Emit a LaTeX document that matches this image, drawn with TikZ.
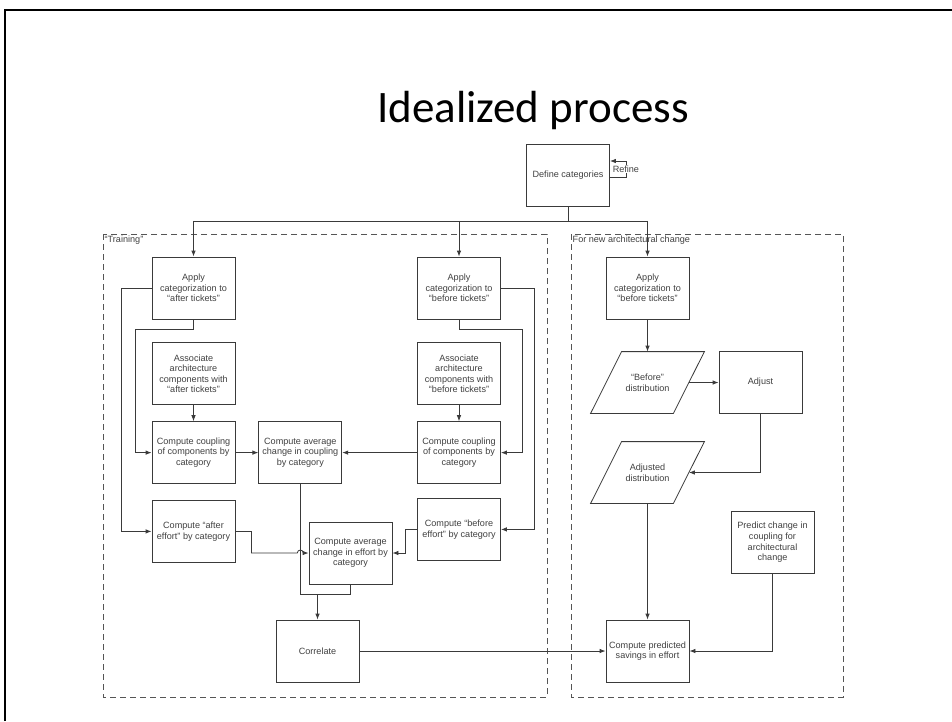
\documentclass[tikz,border=0pt]{standalone}
\usepackage{fontspec}
\setmainfont{Liberation Sans}
\newfontfamily\titlefont{Carlito}
\usetikzlibrary{arrows.meta,positioning}
\definecolor{linegray}{HTML}{3A3A3A}
\definecolor{textgray}{HTML}{404040}
\definecolor{dashgray}{HTML}{555555}
\newcommand{\boxfont}{\fontsize{9.1}{10.6}\selectfont}
\newcommand{\slant}{15.5pt}
\tikzset{
  box/.style={draw=linegray, line width=0.8pt, minimum width=83pt, minimum height=62pt,
    inner sep=2pt, align=center, text=textgray, font=\boxfont},
  data/.style={box, draw=none, minimum width=82pt, minimum height=61pt},
  group/.style={draw=dashgray, line width=1pt, dash pattern=on 6pt off 4pt},
  grouplabel/.style={anchor=north west, inner sep=1.5pt, text=textgray, font=\boxfont},
  link/.style={color=linegray, line width=0.8pt}
}

\begin{document}
\begin{tikzpicture}[x=1pt, y=-1pt, >={Latex[length=6pt,width=4.5pt]}]
	\useasboundingbox (0,0) rectangle (952,721);
	\draw[line width=2.5pt] (5,721) -- (5,10) -- (952,10);
	\node[font=\titlefont\fontsize{45}{50}\selectfont, anchor=base] (title) at (533,122) {Idealized process};

	\node[box] (def) at (568,175.5) {Define categories};

	% training, after tickets
	\node[box] (applyA) at (193.5,288) {Apply\\categorization to\\“after tickets”};
	\node[box] (assocA) [below=23pt of applyA] {Associate\\architecture\\components with\\“after tickets”};
	\node[box] (coupA) [below=16pt of assocA] {Compute coupling\\of components by\\category};
	\node[box] (effA) [below=16pt of coupA] {Compute “after\\effort” by category};

	% training, before tickets
	\node[box] (applyB) at (459,288) {Apply\\categorization to\\“before tickets”};
	\node[box] (assocB) [below=23pt of applyB] {Associate\\architecture\\components with\\“before tickets”};
	\node[box] (coupB) [below=16pt of assocB] {Compute coupling\\of components by\\category};
	\node[box] (effB) [below=14pt of coupB] {Compute “before\\effort” by category};

	\node[box] (avgC) [right=23pt of coupA] {Compute average\\change in coupling\\by category};
	\node[box] (avgE) at (350.5,553) {Compute average\\change in effort by\\category};
	\node[box] (corr) at (317.5,651) {Correlate};

	% new architectural change
	\node[box] (applyC) at (647.5,288) {Apply\\categorization to\\“before tickets”};
	\node[data] (befD) at (647.5,382.5) {“Before”\\distribution};
	\node[box] (adjust) at (760.5,382.5) {Adjust};
	\node[data] (adjD) at (647.5,472.5) {Adjusted\\distribution};
	\node[box] (predict) at (772.5,542.5) {Predict change in\\coupling for\\architectural\\change};
	\node[box] (pred) at (647.5,651) {Compute predicted\\savings in effort};

	% parallelograms round the data nodes
	\foreach \d in {befD,adjD}
		\draw[link] ([xshift=\slant]\d.north west) -- ([xshift=\slant]\d.north east)
			-- ([xshift=-\slant]\d.south east) -- ([xshift=-\slant]\d.south west) -- cycle;

	\draw[group] (103,234) rectangle (547,697);
	\node[grouplabel] (trainlbl) at (103,234) {“Training”};
	\draw[group] (571,234) rectangle (843,697);
	\node[grouplabel] (newlbl) at (571,234) {For new architectural change};

	\draw[->,link] ([yshift=-1.5pt]def.east) -- ++(16,0)
		-- node[fill=white, inner sep=1pt, text=textgray, font=\boxfont] (refine) {Refine} ++(0,-16)
		-- ([yshift=14.5pt]def.east);

	\coordinate (split) at ([yshift=-14pt]def.south);
	\draw[link] (def.south) -- (split);
	\draw[link] (applyA.north |- split) -- (applyC.north |- split);
	\path[->,link]
	(applyA.north |- split) edge (applyA)
	(applyB.north |- split) edge (applyB)
	(applyC.north |- split) edge (applyC)

	(assocA) edge (coupA)
	(assocB) edge (coupB)
	(coupA) edge (avgC)
	(coupB) edge (avgC)
	(corr) edge (pred)

	(applyC) edge (befD.north)
	(befD.east) edge (adjust)
	(adjD.south) edge (pred)
	;

	\draw[->,link] (applyA.west) -- ++(-30,0) |- (effA.west);
	\draw[->,link] (applyA.south) -- ++(0,10) -| ([xshift=-16pt]coupA.west) -- (coupA.west);
	\draw[->,link] (applyB.east) -- ++(33,0) |- (effB.east);
	\draw[->,link] (applyB.south) -- ++(0,10) -| ([xshift=21pt]coupB.east) -- (coupB.east);
	\draw[->,link] (effB.west) -- ++(-12,0) |- (avgE.east);

	\coordinate (hop) at (avgC.south |- avgE.west);
	\draw[->,link] (effA.east) -- ++(16,0) |- ([xshift=-3pt]hop)
		arc[start angle=180, end angle=0, radius=3pt] -- (avgE.west);
	\coordinate (join) at ([yshift=-10pt]avgE.south);
	\draw[link] (avgC.south) |- (join) -- (avgE.south);
	\draw[->,link] (corr.north |- join) -- (corr.north);

	\draw[->,link] (adjust.south) |- (adjD.east);
	\draw[->,link] (predict.south) |- (pred.east);
\end{tikzpicture}
\end{document}
